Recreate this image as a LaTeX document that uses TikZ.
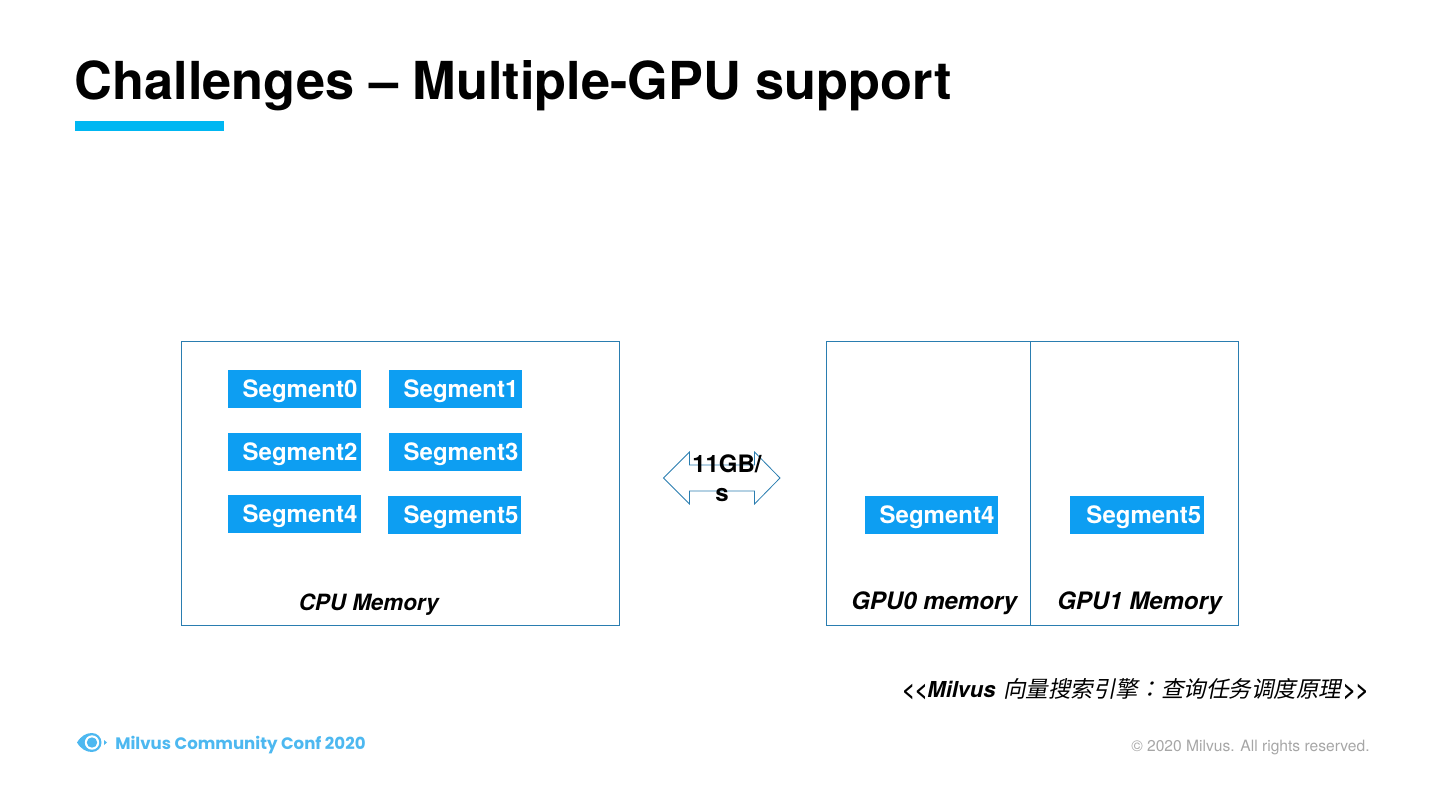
\documentclass[tikz,border=0pt]{standalone}
\usepackage{fontspec}
\setmainfont{TeX Gyre Heros}
\newfontfamily\cjkfont[FakeSlant=0.2]{Noto Sans CJK SC}
\newfontfamily\cjkcolon[FakeSlant=0.2]{Noto Sans CJK TC}
\newfontfamily\logofont{Poppins}
\newcommand{\segtext}[1]{\hspace*{8.25pt}\raisebox{-6.6pt}[0pt][0pt]{#1}}
\definecolor{linec}{HTML}{2A7DB0}
\definecolor{segc}{HTML}{0D9EF2}
\definecolor{barc}{HTML}{00B7F2}
\definecolor{logoc}{HTML}{4DB8F0}
\definecolor{grayt}{HTML}{A6A6A6}
\tikzset{
  x=0.75pt,y=-0.75pt,
  membox/.style={draw=linec,line width=0.7pt},
  seg/.style={fill=segc,inner sep=0pt,minimum width=99.75pt,minimum height=28.5pt,text=white,font=\fontsize{18}{18}\selectfont\bfseries,align=center},
  lab/.style={inner sep=0pt,anchor=base west,font=\fontsize{16.8}{17}\selectfont\bfseries\itshape},
  txt/.style={inner sep=0pt,anchor=base west},
}
\begin{document}
\begin{tikzpicture}
\useasboundingbox (0,0) rectangle (1440,810);
\node[txt,font=\fontsize{39.25}{40}\selectfont\bfseries] (title) at (74.5,99) {Challenges – Multiple-GPU support};
\fill[barc] (75,121) rectangle (224,131);
\draw[membox] (181.5,341.5) rectangle (619.5,625.5);
\draw[membox] (826.5,341.5) rectangle (1030.5,625.5);
\draw[membox] (1030.5,341.5) rectangle (1238.5,625.5);
\node[seg] (s0) at (294.5,389) {\segtext{Segment0}};
\node[seg] (s1) at (455.5,389) {\segtext{Segment1}};
\node[seg] (s2) at (294.5,452) {\segtext{Segment2}};
\node[seg] (s3) at (455.5,452) {\segtext{Segment3}};
\node[seg] (s4) at (294.5,514) {\segtext{Segment4}};
\node[seg] (s5) at (454.5,515) {\hspace*{1.5pt}\segtext{Segment5}};
\node[seg] (g4) at (931.5,515) {\segtext{Segment4}};
\node[seg,minimum width=100.5pt] (g5) at (1137,515) {\hspace*{2pt}\segtext{Segment5}};
\node[lab] (cpu) at (298.5,610) {CPU Memory};
\node[lab,font=\fontsize{18}{18}\selectfont\bfseries\itshape] (gpu0) at (851,609) {GPU0 memory};
\node[lab,font=\fontsize{18}{18}\selectfont\bfseries\itshape] (gpu1) at (1057,609) {GPU1 Memory};
\draw[linec,line width=0.6pt] (663.5,478) -- (689.5,452) -- (689.5,465) -- (754.5,465) -- (754.5,452) -- (780,478) -- (754.5,504) -- (754.5,491) -- (689.5,491) -- (689.5,504) -- cycle;
\node[txt,font=\fontsize{18}{18}\selectfont\bfseries] (bw1) at (692,472) {11GB/};
\node[txt,font=\fontsize{18}{18}\selectfont\bfseries] (bw2) at (715,501) {s};
\node[txt,font=\fontsize{16.5}{17}\selectfont\bfseries\itshape] (ref) at (901.5,697) {{<}{<}Milvus};
\node[txt,font=\fontsize{16.9}{17}\cjkfont] (refc) at (1003,697) {向量搜索引擎{\cjkcolon ：}查询任务调度原理};
\node[txt,font=\fontsize{16.5}{17}\selectfont\bfseries\itshape] (refe) at (1342.5,697) {{>}{>}};
\node[txt,font=\fontsize{11.7}{12}\selectfont,text=grayt] (copy) at (1131,751) {© 2020 Milvus. All rights reserved.};
\node[txt,font=\fontsize{12.45}{14}\logofont\bfseries,text=logoc] (logo) at (115,749) {Milvus Community Conf 2020};
\fill[logoc] (77,742.5) .. controls (81,736) and (86,733) .. (92,733) .. controls (97.5,733) and (101.5,737.5) .. (101.5,742.5) .. controls (101.5,747.5) and (97.5,752) .. (92,752) .. controls (86,752) and (81,749) .. (77,742.5) -- cycle;
\fill[white] (92,742.5) circle[radius=7.2];
\fill[logoc] (92,742.5) circle[radius=5.2];
\fill[logoc] (104,740) -- (107,742.5) -- (104,745) -- cycle;
\end{tikzpicture}
\end{document}
